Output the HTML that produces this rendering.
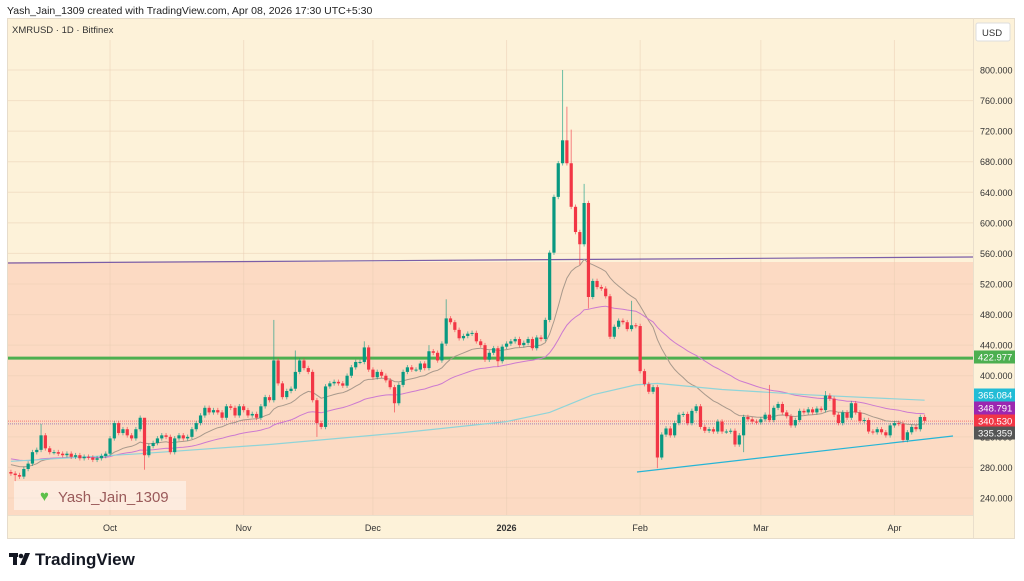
<!DOCTYPE html>
<html><head><meta charset="utf-8"><style>
body{margin:0;background:#fff;width:1024px;height:581px;overflow:hidden;font-family:"Liberation Sans",sans-serif}
svg{display:block}
</style></head><body>
<svg id="chart" width="1024" height="581" viewBox="0 0 1024 581" xmlns="http://www.w3.org/2000/svg" font-family="Liberation Sans, sans-serif">
<text x="7" y="14" font-size="10.5" fill="#222">Yash_Jain_1309 created with TradingView.com, Apr 08, 2026 17:30 UTC+5:30</text>
<rect x="7.5" y="18.5" width="1007" height="520" fill="#fdf2d9" stroke="#e6dccb"/>
<rect x="8" y="262" width="965" height="253" fill="#fcdac3"/>
<g id="grid"></g>
<line x1="973.5" y1="18" x2="973.5" y2="538" stroke="#eadfcc"/>
<line x1="8" y1="515.5" x2="973" y2="515.5" stroke="#eadfcc"/>
<text x="12" y="33" font-size="9.5" fill="#333">XMRUSD · 1D · Bitfinex</text>
<rect x="976" y="23" width="34" height="18" rx="2" fill="#fff" stroke="#ddd"/>
<text x="982" y="36" font-size="9.5" fill="#333">USD</text>
<g id="yticks"></g>
<g id="xticks"></g>
<g id="lines"></g>
<g id="mas"></g>
<g id="candles"></g>
<g id="labels"></g>
<rect x="14" y="481" width="172" height="29" fill="#fff" fill-opacity="0.45"/>
<text x="40" y="501" font-size="15" fill="#5cc04a">♥</text>
<text x="58" y="502" font-size="15" fill="#9a5a5a">Yash_Jain_1309</text>
<g>
<rect x="9" y="553" width="9" height="4" fill="#131722"/><rect x="13" y="553" width="4" height="12" fill="#131722"/>
<circle cx="21" cy="556" r="2.3" fill="#131722"/><polygon points="25,553 30,553 25,565 20,565" fill="#131722"/>
<text x="35" y="565" font-size="17" font-weight="bold" fill="#131722">TradingView</text></g>
</svg>
<script>
const closes=[272,270,268,278,285,300,303,322,305,300,
300,298,296,298,294,296,292,294,293,290,292,295,
298,318,338,325,330,322,318,330,345,296,
308,312,318,322,320,300,318,322,318,320,330,338,348,358,352,
355,352,345,360,358,348,360,355,348,350,345,360,372,368,
420,390,372,380,383,405,420,410,405,368,338,333,
386,390,392,390,387,400,411,418,418,437,
408,398,405,400,394,385,364,388,405,411,
408,408,416,410,432,430,420,442,475,
470,460,449,452,455,456,445,440,421,430,436,
419,438,442,445,448,440,443,448,436,450,448,
473,561,634,678,708,678,621,588,572,626,
503,524,516,514,504,451,464,472,470,461,466,465,406,389,379,385,293,
323,331,322,338,349,350,338,354,360,333,328,330,327,340,327,327,328,310,322,346,
343,340,339,343,349,342,358,363,352,347,335,342,354,352,356,352,357,355,374,370,
349,338,352,345,364,352,341,342,327,326,330,326,322,335,338,337,316,326,333,330,346,341];
const firstOpen=274;
const highIdx=[7,31,61,66,101,128,129,130,133,144,176,189,97,82];
const highVal=[337,332,473,433,500,800,752,722,651,498,388,380,440,445];
const lowIdx=[31,113,132,134,150,71,89,1,170];
const lowVal=[277,412,545,488,279,320,352,262,300];
const cyanIdx=[0,30,60,90,115,125,135,145,150,165,185,212];
const cyanVal=[288,298,310,325,340,352,375,388,390,382,375,368];
const yTicks=[240,280,320,360,400,440,480,520,560,600,640,680,720,760,800];
const monthLabels=["Oct","Nov","Dec","2026","Feb","Mar","Apr"];
const monthIdx=[23,54,84,115,146,174,205];
const markers=[422.977,365.084,348.791,340.530,335.359];
const NS="http://www.w3.org/2000/svg";
const y=p=>70+(800-p)*0.7643;
const x=i=>10.9+4.31*i;
function mk(tag,attrs,parent){const e=document.createElementNS(NS,tag);for(const k in attrs)e.setAttribute(k,attrs[k]);parent.appendChild(e);return e;}
const grid=document.getElementById('grid'),yt=document.getElementById('yticks'),xt=document.getElementById('xticks');
yTicks.forEach(v=>{
 const l=mk('line',{x1:8,x2:973,y1:y(v),y2:y(v),stroke:'#e9cdb4','stroke-opacity':0.5},grid);
 
 
 if(v===400||v===440)return;
 const t=mk('text',{x:980,y:y(v)+3.5,'font-size':9,fill:'#333'},yt);t.textContent=v.toFixed(3);
 
 
});
[400,440].forEach(v=>{const t=mk('text',{x:980,y:y(v)+3.5,'font-size':9,fill:'#333'},yt);t.textContent=v.toFixed(3);
 
 });
monthLabels.forEach((m,k)=>{
 const xx=x(monthIdx[k]);
 const l=mk('line',{x1:xx,x2:xx,y1:40,y2:515,stroke:'#e9cdb4','stroke-opacity':0.5},grid);
 
 
 const t=mk('text',{x:xx,y:531,'font-size':9,fill:'#333','text-anchor':'middle','font-weight':m==='2026'?'bold':'normal'},xt);t.textContent=m;
 
 
});
const lines=document.getElementById('lines');
let e;
e=mk('line',{x1:8,y1:263,x2:973,y2:257,stroke:'#7b5ea7','stroke-width':1.2},lines);


e=mk('line',{x1:8,y1:y(markers[0]),x2:973,y2:y(markers[0]),stroke:'#4caf50','stroke-width':3},lines);


e=mk('line',{x1:637,y1:472,x2:953,y2:436,stroke:'#26b5d6','stroke-width':1.2},lines);


e=mk('line',{x1:8,y1:y(markers[3]),x2:973,y2:y(markers[3]),stroke:'#f23645','stroke-dasharray':'1 1','stroke-opacity':0.6},lines);


e=mk('line',{x1:8,y1:y(337),x2:973,y2:y(337),stroke:'#7a5fb0','stroke-dasharray':'1 1','stroke-opacity':0.7},lines);


// moving averages
const mas=document.getElementById('mas');
function ema(n,seed){let v=seed,out=[];closes.forEach(c=>{v=v+(c-v)*2/(n+1);out.push(v);});return out;}
function path(vals){return vals.map((v,i)=>(i?'L':'M')+x(i).toFixed(1)+' '+y(v).toFixed(1)).join(' ');}
e=mk('path',{d:path(ema(20,285)),fill:'none',stroke:'#a8998c','stroke-width':1},mas);


e=mk('path',{d:path(ema(50,292)),fill:'none',stroke:'#cc7ad0','stroke-width':1},mas);


e=mk('path',{d:cyanIdx.map((ii,k)=>(k?'L':'M')+x(ii).toFixed(1)+' '+y(cyanVal[k]).toFixed(1)).join(' '),fill:'none',stroke:'#8fd4d8','stroke-width':1.2},mas);


// candles
const cg=document.getElementById('candles');
closes.forEach((c,i)=>{
 const o=i?closes[i-1]:firstOpen;
 const up=c>=o,col=up?'#089981':'#f23645';
 let hi=Math.max(o,c)+3,lo=Math.min(o,c)-3;
 const hk=highIdx.indexOf(i);if(hk>=0)hi=highVal[hk];
 const lk=lowIdx.indexOf(i);if(lk>=0)lo=lowVal[lk];
 const g=mk('g',{},cg);
 
 
 mk('line',{x1:x(i),x2:x(i),y1:y(hi),y2:y(lo),stroke:col,'stroke-opacity':0.6},g);
 const top=y(Math.max(o,c)),h=Math.max(1,y(Math.min(o,c))-top);
 mk('rect',{x:x(i)-1.6,y:top,width:3.2,height:h,fill:col},g);
});
// price labels
const lg=document.getElementById('labels');
const lblColors=['#4caf50','#22bcd6','#9c27b0','#f23645','#555'];
const lblY=[357,395,408,421,433];
markers.forEach((m,k)=>{
 const r=mk('rect',{x:974,y:lblY[k]-6.5,width:41,height:13,fill:lblColors[k]},lg);
 
 
 const t=mk('text',{x:978,y:lblY[k]+3.5,'font-size':9.5,fill:'#fff'},lg);t.textContent=m.toFixed(3);
 
 
});
</script>
</body></html>
